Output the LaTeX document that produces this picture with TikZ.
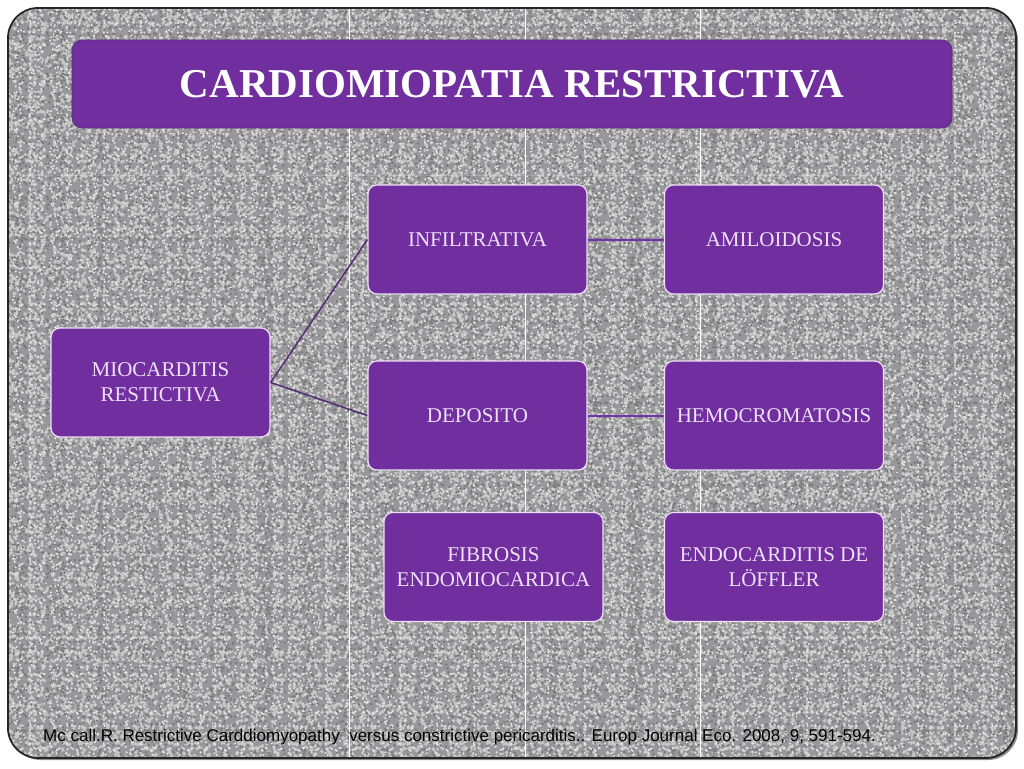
\documentclass[tikz,border=0pt]{standalone}
\usepackage{fontspec}
\setmainfont{Liberation Serif}
\newfontfamily\refsans{Liberation Sans}
\usetikzlibrary{positioning, patterns}
\definecolor{cmPurple}{RGB}{112,46,158}
\definecolor{cmEdge}{RGB}{84,44,116}
\definecolor{cmLine}{RGB}{112,52,168}
\definecolor{cmStone}{RGB}{152,152,154}
\definecolor{cmLilac}{RGB}{238,224,248}

% speckle tiles for the stone panel
\pgfdeclarepatternformonly{stonelight}{\pgfqpoint{0pt}{0pt}}{\pgfqpoint{53pt}{53pt}}{\pgfqpoint{53pt}{53pt}}{%
  \pgfmathsetseed{11}%
  \foreach \i in {1,...,120}{%
    \pgfmathsetmacro\rx{rnd*53}\pgfmathsetmacro\ry{rnd*53}%
    \pgfpathcircle{\pgfpoint{\rx pt}{\ry pt}}{2pt}\pgfusepath{fill}}}
\pgfdeclarepatternformonly{stonedark}{\pgfqpoint{0pt}{0pt}}{\pgfqpoint{41pt}{41pt}}{\pgfqpoint{41pt}{41pt}}{%
  \pgfmathsetseed{29}%
  \foreach \i in {1,...,62}{%
    \pgfmathsetmacro\rx{rnd*41}\pgfmathsetmacro\ry{rnd*41}%
    \pgfpathcircle{\pgfpoint{\rx pt}{\ry pt}}{1.4pt}\pgfusepath{fill}}}
\pgfdeclarepatternformonly{stonefine}{\pgfqpoint{0pt}{0pt}}{\pgfqpoint{37pt}{37pt}}{\pgfqpoint{37pt}{37pt}}{%
  \pgfmathsetseed{73}%
  \foreach \i in {1,...,45}{%
    \pgfmathsetmacro\rx{rnd*37}\pgfmathsetmacro\ry{rnd*37}%
    \pgfpathcircle{\pgfpoint{\rx pt}{\ry pt}}{1.2pt}\pgfusepath{fill}}}

\begin{document}
\begin{tikzpicture}[x=1pt, y=-1pt,
  box/.style={draw=cmLilac, line width=1.2pt, fill=cmPurple, rounded corners=9pt,
    minimum width=219pt, minimum height=109pt, inner sep=0pt,
    text=cmLilac, align=center, font=\fontsize{21}{25}\selectfont},
  link/.style={draw=cmEdge, line width=1.5pt}]
  \fill[white] (0,0) rectangle (1024,768);
  % stone panel
  \fill[black!45, rounded corners=30pt] (11,11) rectangle (1018,760);
  \fill[cmStone, rounded corners=30pt] (8,8) rectangle (1016,758);
  \fill[pattern=stonelight, pattern color=white!78!black, rounded corners=30pt] (8,8) rectangle (1016,758);
  \fill[pattern=stonedark, pattern color=black!52, rounded corners=30pt] (8,8) rectangle (1016,758);
  \fill[pattern=stonefine, pattern color=white!90!black, rounded corners=30pt] (8,8) rectangle (1016,758);
  \foreach \gx in {349,525,700}
    \draw[white, line width=0.8pt] (\gx,9) -- (\gx,757);
  \draw[white, opacity=0.2, line width=0.6pt] (9,175) -- (1015,175);
  \draw[black!85, line width=1.8pt, rounded corners=30pt] (8,8) rectangle (1016,758);

  % title
  \node[fill=cmPurple, draw=cmEdge, line width=0.6pt, rounded corners=10pt,
    minimum width=880pt, minimum height=88pt, text=white,
    font=\fontsize{41}{44}\selectfont\bfseries] (title) at (512,84) {CARDIOMIOPATIA RESTRICTIVA};

  % boxes
  \node[box] (mio)   at (160.5,382.5) {MIOCARDITIS\\RESTICTIVA};
  \node[box] (infil) at (477.5,239.5) {INFILTRATIVA};
  \node[box] (amil)  at (774,239.5)   {AMILOIDOSIS};
  \node[box] (depo)  at (477.5,415.5) {DEPOSITO};
  \node[box] (hemo)  at (774,415.5)   {HEMOCROMATOSIS};
  \node[box] (fibro) at (493.5,567)   {FIBROSIS\\ENDOMIOCARDICA};
  \node[box] (endo)  at (774,567)     {ENDOCARDITIS DE\\LÖFFLER};

  % connectors
  \draw[link] (mio.east) -- (infil.west);
  \draw[link] (mio.east) -- (depo.west);
  \draw[link, draw=cmLine, line width=2pt] (infil.east) -- (amil.west);
  \draw[link, draw=cmLine, line width=2pt] (depo.east) -- (hemo.west);

  % reference
  \node[anchor=west, inner sep=0pt, font=\refsans\fontsize{17}{19}\selectfont] (cite) at (43,737)
    {Mc call.R. Restrictive Carddiomyopathy\ \ versus constrictive pericarditis.. Europ Journal Eco. 2008, 9, 591-594.};
\end{tikzpicture}
\end{document}
